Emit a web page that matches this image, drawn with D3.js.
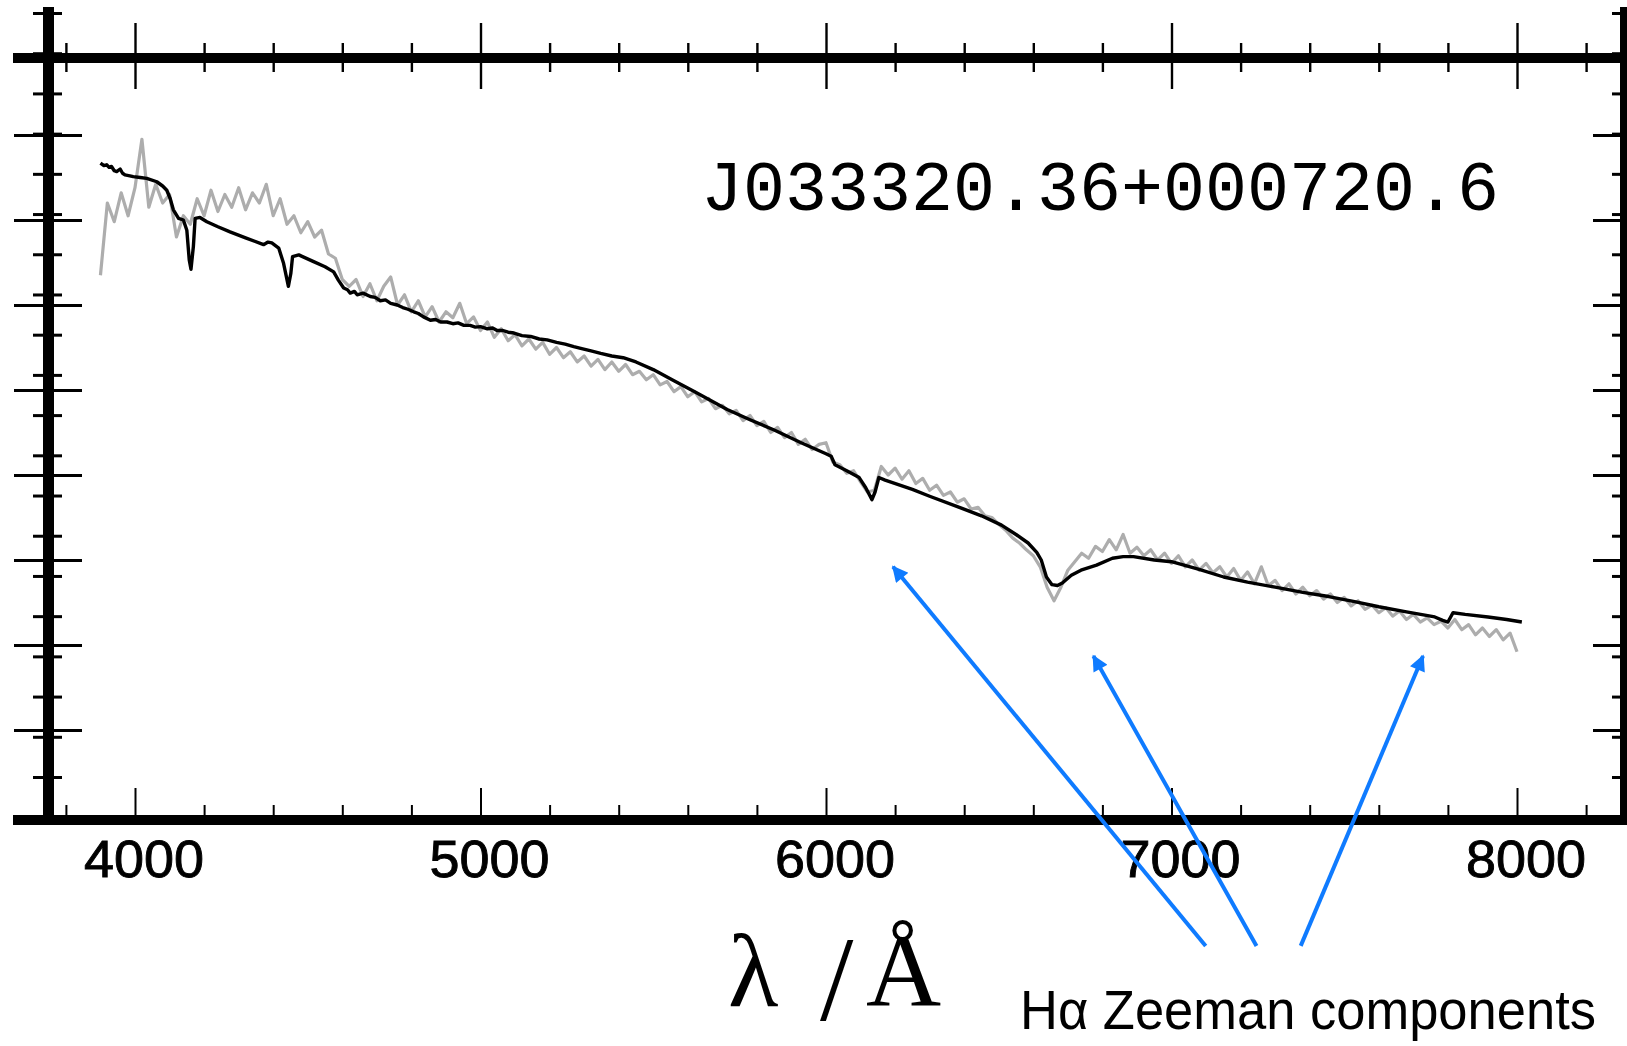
<!DOCTYPE html>
<html>
<head>
<meta charset="utf-8">
<script src="https://cdn.jsdelivr.net/npm/d3@7"></script>
<style>
  html, body { margin: 0; padding: 0; background: #fff; }
  svg { display: block; }
</style>
</head>
<body>
<div id="chart"></div>
<script>
// observed spectrum (grey), sampled every 20 A from 3900 A, flux in arbitrary units
const obsStart = 3900, obsStep = 20;
const obsFlux = [
  6.35, 7.20, 6.98, 7.32, 7.05, 7.38, 7.95, 7.15, 7.42, 7.20,
  7.30, 6.80, 7.05, 6.95, 7.25, 7.05, 7.35, 7.10, 7.30, 7.15,
  7.38, 7.12, 7.32, 7.20, 7.42, 7.05, 7.25, 6.95, 7.05, 6.85,
  6.98, 6.80, 6.88, 6.60, 6.55, 6.30, 6.22, 6.30, 6.10, 6.25,
  6.05, 6.22, 6.33, 6.00, 6.12, 5.92, 6.05, 5.86, 5.98, 5.80,
  5.92, 5.85, 6.02, 5.78, 5.86, 5.70, 5.80, 5.62, 5.72, 5.58,
  5.65, 5.52, 5.60, 5.48, 5.56, 5.42, 5.50, 5.38, 5.45, 5.33,
  5.40, 5.28, 5.36, 5.24, 5.33, 5.22, 5.30, 5.18, 5.22, 5.12,
  5.18, 5.06, 5.10, 4.98, 5.04, 4.92, 4.98, 4.86, 4.90, 4.78,
  4.82, 4.72, 4.76, 4.64, 4.70, 4.58, 4.63, 4.50, 4.56, 4.44,
  4.50, 4.36, 4.42, 4.30, 4.36, 4.38, 4.15, 4.12, 4.02, 4.05,
  3.92, 3.80, 3.82, 4.10, 4.00, 4.08, 3.95, 4.05, 3.90, 3.96,
  3.82, 3.88, 3.76, 3.80, 3.68, 3.72, 3.60, 3.62, 3.52, 3.50,
  3.42, 3.35, 3.26, 3.20, 3.12, 3.05, 2.92, 2.68, 2.52, 2.68,
  2.88, 2.98, 3.08, 3.02, 3.16, 3.10, 3.24, 3.12, 3.30, 3.08,
  3.15, 3.05, 3.12, 3.00, 3.08, 2.96, 3.05, 2.92, 3.00, 2.88,
  2.96, 2.85, 2.92, 2.80, 2.90, 2.76, 2.86, 2.72, 2.92, 2.70,
  2.76, 2.64, 2.72, 2.60, 2.68, 2.58, 2.64, 2.54, 2.60, 2.50,
  2.56, 2.46, 2.52, 2.42, 2.47, 2.38, 2.44, 2.34, 2.40, 2.30,
  2.36, 2.27, 2.32, 2.24, 2.28, 2.20, 2.30, 2.18, 2.24, 2.12,
  2.20, 2.10, 2.18, 2.06, 2.14, 1.92
];

// model spectrum (black)
const modelWave = [
  3900, 3910, 3918, 3925, 3932, 3940, 3947, 3957, 3964, 3971, 3985, 3995,
  4015, 4034, 4063, 4080, 4092, 4102, 4111, 4126, 4140, 4150, 4157, 4162,
  4169, 4174, 4188, 4208, 4240, 4275, 4320, 4372, 4385, 4396, 4416, 4430,
  4444, 4451, 4456, 4474, 4517, 4550, 4575, 4589, 4604, 4615, 4623, 4635,
  4643, 4660, 4681, 4695, 4710, 4725, 4740, 4759, 4775, 4790, 4807, 4820,
  4835, 4855, 4870, 4885, 4903, 4920, 4935, 4952, 4970, 4985, 5000, 5020,
  5035, 5048, 5065, 5080, 5097, 5120, 5145, 5170, 5193, 5220, 5245, 5270,
  5290, 5320, 5348, 5380, 5413, 5450, 5500, 5560, 5620, 5714, 5780, 5850,
  5928, 6000, 6015, 6026, 6060, 6096, 6115, 6133, 6142, 6153, 6171, 6250,
  6300, 6386, 6450, 6508, 6550, 6585, 6610, 6623, 6638, 6654, 6670, 6684,
  6710, 6738, 6783, 6829, 6860, 6890, 6950, 7000, 7080, 7151, 7220, 7300,
  7380, 7455, 7530, 7600, 7680, 7762, 7785, 7800, 7808, 7815, 7850, 7916,
  7970, 8014
];
const modelFlux = [
  7.67, 7.64, 7.65, 7.62, 7.63, 7.58, 7.57, 7.60, 7.55, 7.53, 7.52, 7.51,
  7.50, 7.49, 7.45, 7.40, 7.35, 7.25, 7.12, 7.02, 7.00, 6.88, 6.53, 6.42,
  6.69, 7.02, 7.03, 6.98, 6.92, 6.86, 6.79, 6.71, 6.74, 6.73, 6.67, 6.49,
  6.22, 6.37, 6.57, 6.59, 6.51, 6.45, 6.39, 6.29, 6.20, 6.18, 6.14, 6.16,
  6.12, 6.14, 6.10, 6.09, 6.05, 6.06, 6.02, 6.00, 5.97, 5.95, 5.92, 5.90,
  5.86, 5.82, 5.83, 5.80, 5.80, 5.78, 5.79, 5.76, 5.76, 5.74, 5.745, 5.72,
  5.73, 5.70, 5.70, 5.68, 5.67, 5.64, 5.63, 5.60, 5.59, 5.56, 5.54, 5.51,
  5.49, 5.46, 5.43, 5.40, 5.38, 5.33, 5.24, 5.11, 4.98, 4.77, 4.65, 4.53,
  4.38, 4.25, 4.22, 4.12, 4.05, 3.97, 3.85, 3.71, 3.80, 3.97, 3.94, 3.83,
  3.75, 3.62, 3.52, 3.41, 3.30, 3.20, 3.09, 3.00, 2.80, 2.71, 2.70, 2.73,
  2.82, 2.88, 2.94, 3.02, 3.04, 3.04, 3.00, 2.98, 2.89, 2.80, 2.74, 2.68,
  2.62, 2.57, 2.51, 2.45, 2.39, 2.33, 2.29, 2.27, 2.33, 2.38, 2.36, 2.33,
  2.30, 2.27
];

const xMajorTicks = [4000, 5000, 6000, 7000, 8000];
const xTickLabels = ["4000", "5000", "6000", "7000", "8000"];
const xMinorTicks = [3800, 4200, 4400, 4600, 4800, 5200, 5400, 5600, 5800,
  6200, 6400, 6600, 6800, 7200, 7400, 7600, 7800, 8200];
const yMajorTicks = [1, 2, 3, 4, 5, 6, 7, 8];
const yMinorTicks = [0, 1, 2, 3, 4, 5, 6, 7, 8, 9, 10, 11, 12, 13, 14, 15, 16, 17, 18, 19];

const objectName = "J033320.36+000720.6";
const annotationText = "Hα Zeeman components";
// arrows: [wavelength, flux] of tail and head
const arrowTails = [[7099, -1.54], [7246, -1.54], [7374, -1.54]];
const arrowHeads = [[6194, 2.92], [6774, 1.87], [7728, 1.87]];

const W = 1627, H = 1046;
const svg = d3.select('#chart').append('svg')
  .attr('width', W).attr('height', H)
  .style('background', '#fff');

const x = d3.scaleLinear().domain([4000, 8000]).range([135, 1517]);
const y = d3.scaleLinear().domain([0, 8]).range([815, 135]);
const yAlt = d3.scaleLinear().domain([0, 19]).range([777, 13]);

const frame = { left: 48.5, right: 1626, top: 58, bottom: 820 };

// spectra
const obsLine = d3.line()
  .x((d, i) => x(obsStart + i * obsStep))
  .y(d => y(d));
svg.append('path')
  .datum(obsFlux)
  .attr('d', obsLine)
  .attr('fill', 'none')
  .attr('stroke', '#adadad')
  .attr('stroke-width', 3.2)
  .attr('stroke-linejoin', 'round');

const modelLine = d3.line()
  .x(d => x(d[0]))
  .y(d => y(d[1]));
svg.append('path')
  .datum(modelWave.map((w, i) => [w, modelFlux[i]]))
  .attr('d', modelLine)
  .attr('fill', 'none')
  .attr('stroke', '#000')
  .attr('stroke-width', 3.4)
  .attr('stroke-linejoin', 'round');

// ticks
function tickGroup(axis, tx, ty, width) {
  const g = svg.append('g')
    .attr('transform', `translate(${tx},${ty})`)
    .call(axis);
  g.select('.domain').remove();
  g.selectAll('text').remove();
  g.selectAll('line').attr('stroke', '#000').attr('stroke-width', width);
  return g;
}
// top axis ticks cross the line
tickGroup(d3.axisBottom(x).tickValues(xMajorTicks).tickSize(66), 0, 23, 2.4);
tickGroup(d3.axisBottom(x).tickValues(xMinorTicks).tickSize(29), 0, 43, 2.4);
// bottom axis ticks point inward
tickGroup(d3.axisTop(x).tickValues(xMajorTicks).tickSize(27), 0, 815, 2);
tickGroup(d3.axisTop(x).tickValues(xMinorTicks).tickSize(10), 0, 815, 2);
// left axis
tickGroup(d3.axisRight(y).tickValues(yMajorTicks).tickSize(68), 14, 0, 3);
tickGroup(d3.axisRight(yAlt).tickValues(yMinorTicks).tickSize(29), 33, 0, 3);
// right axis
tickGroup(d3.axisRight(y).tickValues(yMajorTicks).tickSize(27), 1593, 0, 3);
tickGroup(d3.axisRight(yAlt).tickValues(yMinorTicks).tickSize(8), 1612, 0, 3);

// frame lines
svg.append('line').attr('x1', 13).attr('x2', W).attr('y1', frame.top).attr('y2', frame.top)
  .attr('stroke', '#000').attr('stroke-width', 10);
svg.append('line').attr('x1', 13).attr('x2', W).attr('y1', frame.bottom).attr('y2', frame.bottom)
  .attr('stroke', '#000').attr('stroke-width', 10);
svg.append('line').attr('x1', frame.left).attr('x2', frame.left).attr('y1', 7).attr('y2', 825)
  .attr('stroke', '#000').attr('stroke-width', 11);
svg.append('line').attr('x1', frame.right).attr('x2', frame.right).attr('y1', 7).attr('y2', 825)
  .attr('stroke', '#000').attr('stroke-width', 12);

// tick labels
svg.selectAll('.xlab')
  .data(xMajorTicks)
  .enter().append('text')
  .attr('class', 'xlab')
  .attr('x', d => x(d) + 9)
  .attr('y', 877)
  .attr('text-anchor', 'middle')
  .attr('font-family', '"Liberation Sans", Arial, sans-serif')
  .attr('font-size', 52)
  .attr('textLength', 120)
  .attr('lengthAdjust', 'spacingAndGlyphs')
  .attr('fill', '#000')
  .attr('stroke', '#000')
  .attr('stroke-width', 0.9)
  .text((d, i) => xTickLabels[i]);

// object name
svg.append('text')
  .attr('x', 701).attr('y', 210)
  .attr('font-family', '"Liberation Mono", "Courier New", monospace')
  .attr('font-size', 70)
  .attr('fill', '#000')
  .text(objectName);

// axis title
const title = svg.append('text')
  .attr('y', 1006)
  .attr('font-family', '"Liberation Serif", "Times New Roman", serif')
  .attr('font-size', 104)
  .attr('fill', '#000');
title.append('tspan').attr('x', 728).text('λ');
title.append('tspan').attr('x', 820).attr('font-size', 120).attr('dy', 14).text('/');
title.append('tspan').attr('x', 866).attr('dy', -14).text('Å');

// annotation
svg.append('text')
  .attr('x', 1020).attr('y', 1029)
  .attr('font-family', '"Liberation Sans", Arial, sans-serif')
  .attr('font-size', 55)
  .attr('textLength', 576)
  .attr('lengthAdjust', 'spacingAndGlyphs')
  .attr('fill', '#000')
  .text(annotationText);

svg.append('defs').append('marker')
  .attr('id', 'arrow')
  .attr('viewBox', '0 0 10 10')
  .attr('refX', 9).attr('refY', 5)
  .attr('markerWidth', 22).attr('markerHeight', 16)
  .attr('markerUnits', 'userSpaceOnUse')
  .attr('orient', 'auto')
  .append('path')
  .attr('d', 'M0,0 L10,5 L0,10 Z')
  .attr('fill', '#0f7bff');

svg.selectAll('.arrow')
  .data(arrowTails)
  .enter().append('line')
  .attr('class', 'arrow')
  .attr('x1', d => x(d[0]))
  .attr('y1', d => y(d[1]))
  .attr('x2', (d, i) => x(arrowHeads[i][0]))
  .attr('y2', (d, i) => y(arrowHeads[i][1]))
  .attr('stroke', '#0f7bff')
  .attr('stroke-width', 4)
  .attr('marker-end', 'url(#arrow)');
</script>
</body>
</html>
